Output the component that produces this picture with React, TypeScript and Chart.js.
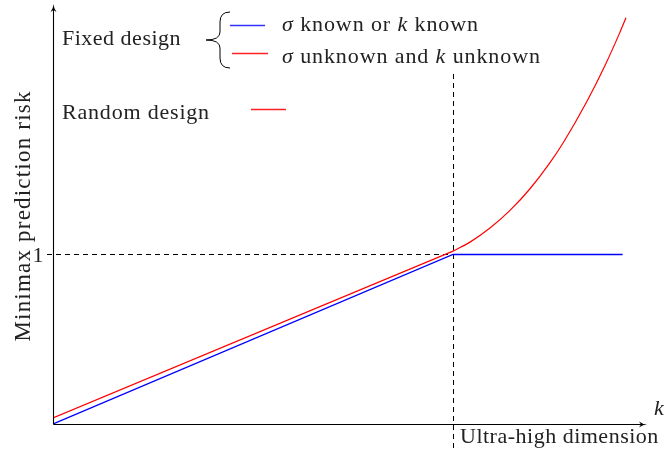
import React, { useEffect, useRef } from "react";
import { Chart, registerables } from "chart.js";

Chart.register(...registerables);

// Data (k scaled so that the ultra-high dimension threshold is at 1)
const blueX = [0, 1, 1.424];
const blueY = [0, 1, 1];
const redFixedX = [0, 1];
const redFixedY = [0.036, 1.02];
const redRandomX = [1, 1.0425, 1.0925, 1.1425, 1.1925, 1.2425, 1.2775, 1.335, 1.38, 1.4175, 1.4325];
const redRandomY = [1.02, 1.073, 1.156, 1.26, 1.388, 1.542, 1.667, 1.904, 2.115, 2.312, 2.397];
const threshold = 1;
const yTickValues = [1];
const yTickLabels = ["1"];
const xMax = 1.485;
const yMax = 2.478;

const FONT = "'Liberation Serif', 'DejaVu Serif', serif";
const FS = 22;

const pts = (xs: number[], ys: number[]) => xs.map((x, i) => ({ x, y: ys[i] }));

function setSpacing(ctx: CanvasRenderingContext2D, px: number) {
  (ctx as any).letterSpacing = `${px}px`;
}

function drawRich(ctx: CanvasRenderingContext2D, parts: [string, boolean][], x: number, y: number) {
  let cx = x;
  for (const [t, it] of parts) {
    ctx.font = `${it ? "italic " : ""}${FS}px ${FONT}`;
    ctx.fillText(t, cx, y);
    cx += ctx.measureText(t).width;
  }
}

const overlay = {
  id: "overlay",
  beforeDatasetsDraw(chart: any) {
    const ctx = chart.ctx as CanvasRenderingContext2D;
    const xs = chart.scales.x;
    const ys = chart.scales.y;
    const x0 = xs.getPixelForValue(0);
    const y0 = ys.getPixelForValue(0);
    const xt = xs.getPixelForValue(threshold);
    ctx.save();
    ctx.strokeStyle = "#000";
    ctx.lineWidth = 1;
    ctx.setLineDash([5, 4]);
    yTickValues.forEach((v) => {
      const py = Math.round(ys.getPixelForValue(v) - 0.5) + 0.5;
      ctx.beginPath();
      ctx.moveTo(x0 - 6, py);
      ctx.lineTo(xt, py);
      ctx.stroke();
    });
    ctx.beginPath();
    ctx.moveTo(Math.round(xt) + 0.5, ys.getPixelForValue(2.065));
    ctx.lineTo(Math.round(xt) + 0.5, y0 + 28);
    ctx.stroke();
    ctx.restore();
  },
  afterDraw(chart: any) {
    const ctx = chart.ctx as CanvasRenderingContext2D;
    const xs = chart.scales.x;
    const ys = chart.scales.y;
    const x0 = Math.round(xs.getPixelForValue(0)) + 0.5;
    const y0 = Math.round(ys.getPixelForValue(0) - 0.5) + 0.5;
    const xEnd = xs.getPixelForValue(xMax);
    const yEnd = ys.getPixelForValue(yMax);
    const xt = xs.getPixelForValue(threshold);
    ctx.save();
    // axes
    ctx.strokeStyle = "#000";
    ctx.fillStyle = "#000";
    ctx.lineWidth = 1.1;
    ctx.beginPath();
    ctx.moveTo(x0, y0);
    ctx.lineTo(xEnd - 3, y0);
    ctx.moveTo(x0, y0);
    ctx.lineTo(x0, yEnd + 3);
    ctx.stroke();
    // arrow heads
    ctx.beginPath();
    ctx.moveTo(xEnd, y0);
    ctx.quadraticCurveTo(xEnd - 4, y0, xEnd - 8, y0 - 3);
    ctx.lineTo(xEnd - 6, y0);
    ctx.lineTo(xEnd - 8, y0 + 3);
    ctx.quadraticCurveTo(xEnd - 4, y0, xEnd, y0);
    ctx.fill();
    ctx.beginPath();
    ctx.moveTo(x0, yEnd);
    ctx.quadraticCurveTo(x0, yEnd + 4, x0 - 3, yEnd + 8);
    ctx.lineTo(x0, yEnd + 6);
    ctx.lineTo(x0 + 3, yEnd + 8);
    ctx.quadraticCurveTo(x0, yEnd + 4, x0, yEnd);
    ctx.fill();

    ctx.fillStyle = "#222";
    ctx.textBaseline = "alphabetic";
    // y tick labels
    ctx.font = `${FS}px ${FONT}`;
    ctx.textAlign = "right";
    yTickValues.forEach((v, i) => {
      ctx.fillText(yTickLabels[i], x0 - 10, ys.getPixelForValue(v) + 7);
    });
    ctx.textAlign = "left";
    // axis labels
    ctx.font = `italic ${FS}px ${FONT}`;
    ctx.fillText("k", xEnd + 7, y0 - 10);
    ctx.font = `${FS}px ${FONT}`;
    setSpacing(ctx, 0.5);
    ctx.fillText("Ultra-high dimension", xt + 7, y0 + 18);
    ctx.save();
    ctx.font = `23px ${FONT}`;
    setSpacing(ctx, 1.2);
    ctx.translate(30, 216);
    ctx.rotate(-Math.PI / 2);
    ctx.textAlign = "center";
    ctx.fillText("Minimax prediction risk", 0, 0);
    ctx.restore();

    // legend
    ctx.font = `${FS}px ${FONT}`;
    setSpacing(ctx, 0.5);
    ctx.fillText("Fixed design", 62, 45);
    setSpacing(ctx, 0.8);
    ctx.fillText("Random design", 62, 119);
    ctx.strokeStyle = "#000";
    ctx.lineWidth = 1;
    ctx.beginPath();
    ctx.moveTo(230, 12);
    ctx.quadraticCurveTo(220, 12, 220, 22);
    ctx.lineTo(220, 32);
    ctx.quadraticCurveTo(220, 40, 206, 40);
    ctx.quadraticCurveTo(220, 40, 220, 48);
    ctx.lineTo(220, 58);
    ctx.quadraticCurveTo(220, 68, 230, 68);
    ctx.stroke();
    ctx.lineWidth = 1.3;
    ctx.strokeStyle = "#3333ff";
    ctx.beginPath();
    ctx.moveTo(230, 25.5);
    ctx.lineTo(265, 25.5);
    ctx.stroke();
    ctx.strokeStyle = "#ff2222";
    ctx.beginPath();
    ctx.moveTo(232, 53.5);
    ctx.lineTo(268, 53.5);
    ctx.stroke();
    ctx.beginPath();
    ctx.moveTo(251, 109.5);
    ctx.lineTo(286, 109.5);
    ctx.stroke();
    setSpacing(ctx, 0.9);
    drawRich(ctx, [["σ", true], [" known or ", false], ["k", true], [" known", false]], 282, 31);
    drawRich(ctx, [["σ", true], [" unknown and ", false], ["k", true], [" unknown", false]], 282, 63);
    setSpacing(ctx, 0);
    ctx.restore();
  },
};

export default function App() {
  const ref = useRef<HTMLCanvasElement | null>(null);
  useEffect(() => {
    if (!ref.current) return;
    const chart = new Chart(ref.current, {
      type: "scatter",
      data: {
        datasets: [
          { data: pts(blueX, blueY), borderColor: "#0000ff", borderWidth: 1.3, showLine: true, pointRadius: 0, tension: 0 },
          { data: pts(redFixedX, redFixedY), borderColor: "#ff0000", borderWidth: 1.2, showLine: true, pointRadius: 0, tension: 0 },
          { data: pts(redRandomX, redRandomY), borderColor: "#ff0000", borderWidth: 1.2, showLine: true, pointRadius: 0, cubicInterpolationMode: "monotone" } as any,
        ],
      },
      options: {
        animation: false,
        responsive: false,
        maintainAspectRatio: false,
        layout: { padding: { left: 53, right: 19, top: 4, bottom: 31 } },
        plugins: { legend: { display: false }, tooltip: { enabled: false } },
        scales: {
          x: { type: "linear", min: 0, max: xMax, display: false },
          y: { type: "linear", min: 0, max: yMax, display: false },
        },
      },
      plugins: [overlay],
    });
    return () => chart.destroy();
  }, []);
  return (
    <div style={{ position: "fixed", left: 0, top: 0, width: 666, height: 455, background: "#fff" }}>
      <canvas ref={ref} width={666} height={455} style={{ width: 666, height: 455 }} />
    </div>
  );
}
